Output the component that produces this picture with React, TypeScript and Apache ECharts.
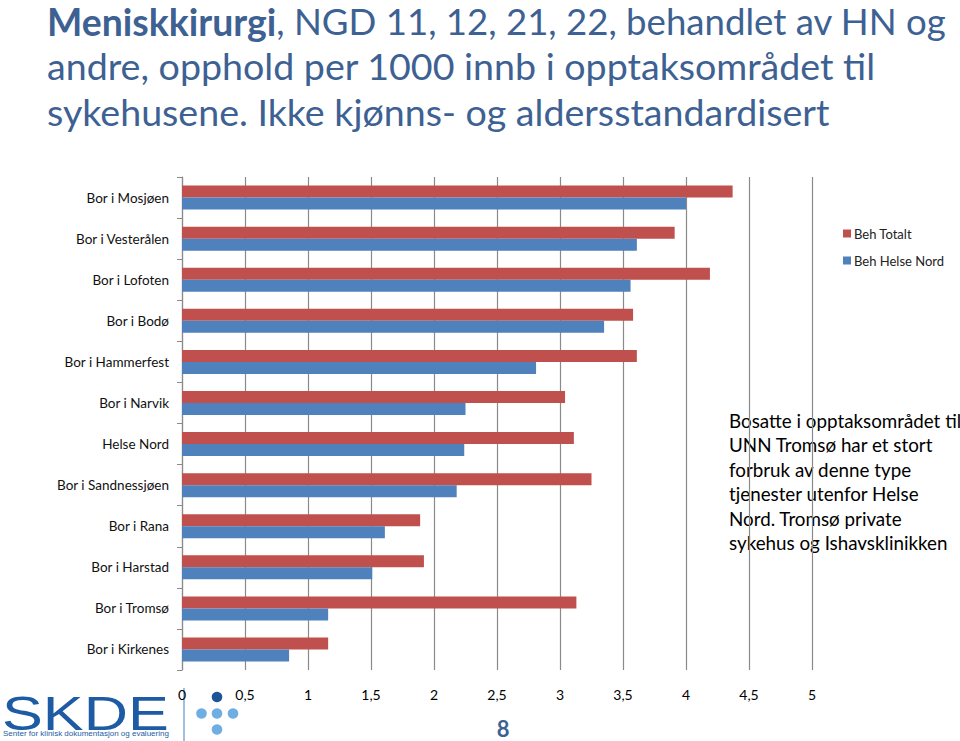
import React, { useEffect, useRef } from "react";
import * as echarts from "echarts";

const categories = [
  "Bor i Mosjøen",
  "Bor i Vesterålen",
  "Bor i Lofoten",
  "Bor i Bodø",
  "Bor i Hammerfest",
  "Bor i Narvik",
  "Helse Nord",
  "Bor i Sandnessjøen",
  "Bor i Rana",
  "Bor i Harstad",
  "Bor i Tromsø",
  "Bor i Kirkenes",
];
const behTotalt = [4.37, 3.91, 4.19, 3.58, 3.61, 3.04, 3.11, 3.25, 1.89, 1.92, 3.13, 1.16];
const behHelseNord = [4.0, 3.61, 3.56, 3.35, 2.81, 2.25, 2.24, 2.18, 1.61, 1.51, 1.16, 0.85];
const seriesNames = ["Beh Totalt", "Beh Helse Nord"];
const noteLines = [
  "Bosatte i opptaksområdet til",
  "UNN Tromsø har et stort",
  "forbruk av denne type",
  "tjenester utenfor Helse",
  "Nord. Tromsø private",
  "sykehus og Ishavsklinikken",
];
const titleLines = [
  "{b|Meniskkirurgi}, NGD 11, 12, 21, 22, behandlet av HN og",
  "andre, opphold per 1000 innb i opptaksområdet til",
  "sykehusene. Ikke kjønns- og aldersstandardisert",
];

const FONT = "Lato, 'Open Sans', sans-serif";
const TITLE_COLOR = "#3D6192";

export default function App() {
  const ref = useRef<HTMLDivElement>(null);
  useEffect(() => {
    if (!ref.current) return;
    const chart = echarts.init(ref.current, null, { renderer: "svg" });
    const titleY = [21, 65, 111];
    const titleSize = [36.6, 37.6, 37.6];
    const titleGraphics = titleLines.map((t, i) => ({
      type: "text",
      x: 47,
      y: titleY[i],
      style: {
        text: t,
        font: `${titleSize[i]}px ${FONT}`,
        fill: TITLE_COLOR,
        verticalAlign: "middle",
        lineHeight: 38,
        rich: {
          b: {
            fontFamily: FONT,
            fontSize: 37.4,
            fontWeight: "bold",
            fill: TITLE_COLOR,
            color: TITLE_COLOR,
            lineHeight: 38,
          },
        },
      },
    }));
    const option: any = {
      animation: false,
      backgroundColor: "#ffffff",
      textStyle: { fontFamily: FONT },
      legend: {
        orient: "vertical",
        left: 838,
        top: 222,
        itemWidth: 8,
        itemHeight: 8,
        itemGap: 14,
        icon: "rect",
        data: seriesNames,
        textStyle: { fontFamily: FONT, fontSize: 13, color: "#222", padding: [0, 0, 0, -2] },
      },
      grid: { left: 182, right: 148, top: 177, bottom: 71, containLabel: false },
      xAxis: {
        type: "value",
        min: 0,
        max: 5,
        interval: 0.5,
        axisLine: { show: false },
        axisTick: { show: false },
        axisLabel: {
          margin: 17,
          fontFamily: FONT,
          fontSize: 14,
          color: "#000",
          formatter: (v: number) => String(v).replace(".", ","),
        },
        splitLine: { show: true, lineStyle: { color: "#8a8a8a", width: 1.2 } },
      },
      yAxis: {
        type: "category",
        data: categories,
        inverse: true,
        axisLine: { show: true, lineStyle: { color: "#8a8a8a", width: 1.2 } },
        axisTick: { show: true, length: 5, lineStyle: { color: "#8a8a8a" } },
        axisLabel: { margin: 13, fontFamily: FONT, fontSize: 13.5, color: "#111" },
      },
      series: [
        {
          name: seriesNames[0],
          type: "bar",
          data: behTotalt,
          barWidth: 12,
          barGap: "0%",
          itemStyle: { color: "#C0504D" },
        },
        {
          name: seriesNames[1],
          type: "bar",
          data: behHelseNord,
          barWidth: 12,
          barGap: "0%",
          itemStyle: { color: "#4F81BD" },
        },
      ],
      graphic: [
        ...titleGraphics,
        {
          type: "text",
          left: 729,
          top: 408,
          style: {
            text: noteLines.join("\n"),
            font: `18.8px ${FONT}`,
            fill: "#000",
            lineHeight: 24.5,
          },
        },
        {
          type: "text",
          x: 2,
          y: 689,
          scaleX: 1.25,
          style: {
            text: "SKDE",
            font: "49px 'Liberation Sans', Arial, sans-serif",
            fill: "#1D5BA4",
          },
        },
        {
          type: "text",
          x: 3,
          y: 729,
          style: {
            text: "Senter for klinisk dokumentasjon og evaluering",
            font: "8px 'Liberation Sans', Arial, sans-serif",
            fill: "#1D5BA4",
          },
        },
        {
          type: "line",
          shape: { x1: 184, y1: 688, x2: 184, y2: 741 },
          style: { stroke: "#7FA9D6", lineWidth: 1.5 },
        },
        { type: "circle", shape: { cx: 217, cy: 697, r: 5.3 }, style: { fill: "#1C5596" } },
        { type: "circle", shape: { cx: 201.5, cy: 713.5, r: 5.3 }, style: { fill: "#6FAEE3" } },
        { type: "circle", shape: { cx: 217, cy: 713.5, r: 5.3 }, style: { fill: "#6FAEE3" } },
        { type: "circle", shape: { cx: 233, cy: 713.5, r: 5.3 }, style: { fill: "#6FAEE3" } },
        { type: "circle", shape: { cx: 217, cy: 729.5, r: 5.3 }, style: { fill: "#6FAEE3" } },
        {
          type: "text",
          x: 503,
          y: 728,
          style: {
            text: "8",
            font: `bold 22px ${FONT}`,
            fill: "#3D6192",
            align: "center",
            verticalAlign: "middle",
          },
        },
      ],
    };
    chart.setOption(option);
    return () => chart.dispose();
  }, []);
  return (
    <div
      ref={ref}
      style={{ position: "fixed", left: 0, top: 0, width: 960, height: 741 }}
    />
  );
}
